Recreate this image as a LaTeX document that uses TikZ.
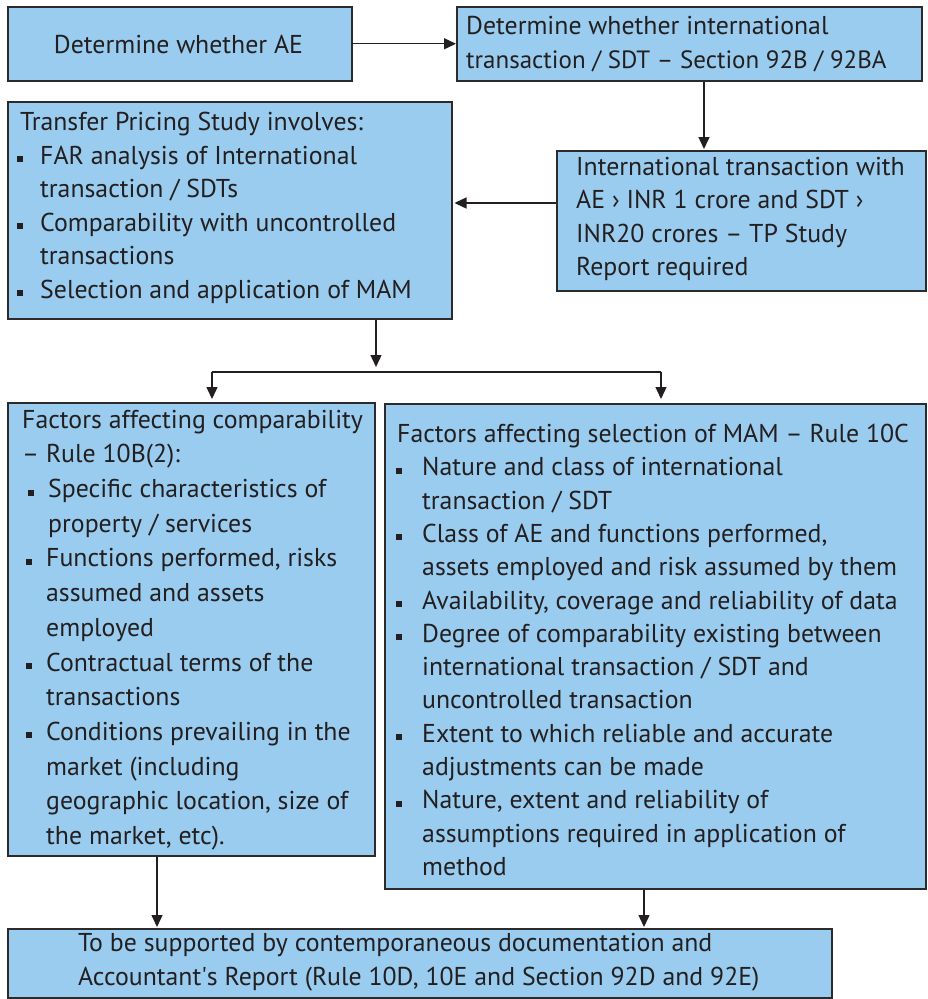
\documentclass[tikz,border=0pt]{standalone}
\usepackage{fontspec}
\setmainfont{PT Sans}
\usetikzlibrary{arrows.meta,calc}
\definecolor{boxfill}{HTML}{99CCEE}
\definecolor{ink}{HTML}{231F20}
\definecolor{edge}{HTML}{2B2B2B}
\newcommand{\bl}[1]{\makebox[#1][l]{\rule[2pt]{6pt}{6pt}}}
\newcommand{\ind}[1]{\hspace*{#1}}
\begin{document}
\begin{tikzpicture}[x=1pt,y=-1pt,
  box/.style={draw=edge,line width=1.5pt,fill=boxfill,anchor=north west,inner sep=0pt},
  txt/.style={anchor=west,inner sep=0pt,align=left,text=ink,font={\fontsize{25.8}{33.5}\selectfont}},
  arr/.style={draw=ink,line width=1.4pt,-{Triangle[length=12pt,width=11pt]}},
  plain/.style={draw=ink,line width=1.4pt}]
\useasboundingbox (0,0) rectangle (928,999);
% boxes
\node[box,minimum width=344pt,minimum height=74pt] (A) at (7,6) {};
\node[box,minimum width=465pt,minimum height=74pt] (B) at (456,6) {};
\node[box,minimum width=444pt,minimum height=217pt] (C) at (7,101) {};
\node[box,minimum width=369pt,minimum height=140pt] (D) at (556,150) {};
\node[box,minimum width=367pt,minimum height=453pt] (E) at (7,402) {};
\node[box,minimum width=541pt,minimum height=485pt] (F) at (384,403) {};
\node[box,minimum width=824pt,minimum height=69pt] (G) at (7,928) {};
% texts
\node[txt,anchor=center] (tA) at (178.5,44) {Determine whether AE};
\node[txt] (tB) at (466,44) {Determine whether international\\{\fontsize{25}{33.5}\selectfont transaction / SDT – Section 92B / 92BA}};
\node[txt] (tC) at (17,208) {\ind{3pt}Transfer Pricing Study involves:\\
\bl{23pt}FAR analysis of International\\
\ind{23pt}transaction / SDTs\\
\bl{23pt}Comparability with uncontrolled\\
\ind{23pt}transactions\\
\bl{23pt}Selection and application of MAM};
\node[txt] (tD) at (576,219) {International transaction with\\AE › INR 1 crore and SDT ›\\INR20 crores – TP Study\\Report required};
\node[txt,font={\fontsize{25.8}{34.7}\selectfont}] (tE) at (22,630) {Factors affecting comparability\\
– Rule 10B(2):\\
\ind{6pt}\bl{20pt}Specific characteristics of\\
\ind{26pt}property / services\\
\ind{4pt}\bl{20pt}Functions performed, risks\\
\ind{24pt}assumed and assets\\
\ind{24pt}employed\\
\ind{4pt}\bl{20pt}Contractual terms of the\\
\ind{24pt}transactions\\
\ind{4pt}\bl{20pt}Conditions prevailing in the\\
\ind{24pt}market (including\\
\ind{24pt}geographic location, size of\\
\ind{24pt}the market, etc).};
\node[txt,font={\fontsize{25.8}{33.3}\selectfont}] (tF) at (396,650) {\ind{1pt}Factors affecting selection of MAM – Rule 10C\\
\bl{26pt}Nature and class of international\\
\ind{26pt}transaction / SDT\\
\bl{26pt}Class of AE and functions performed,\\
\ind{26pt}assets employed and risk assumed by them\\
\bl{26pt}Availability, coverage and reliability of data\\
\bl{26pt}Degree of comparability existing between\\
\ind{26pt}international transaction / SDT and\\
\ind{26pt}uncontrolled transaction\\
\bl{26pt}Extent to which reliable and accurate\\
\ind{26pt}adjustments can be made\\
\bl{26pt}Nature, extent and reliability of\\
\ind{26pt}assumptions required in application of\\
\ind{26pt}method};
\node[txt] (tG) at (78,962) {To be supported by contemporaneous documentation and\\Accountant\textquotesingle s Report (Rule 10D, 10E and Section 92D and 92E)};
% connector helpers
\coordinate (bd) at (704,0);
\coordinate (dc) at (0,203);
\coordinate (cs) at (376,0);
\coordinate (split) at (376,367);
\coordinate (hl) at (212,372);
\coordinate (hr) at (661,372);
\coordinate (eg) at (157,0);
\coordinate (fg) at (644,0);
% connectors
\draw[arr] (A.east) -- (B.west);
\draw[arr] (bd |- B.south) -- ($(bd |- D.north)+(0,-1)$);
\draw[arr] (dc -| D.west) -- ($(dc -| C.east)+(2,0)$);
\draw[arr] (cs |- C.south) -- (split);
\draw[plain] (hl) -- (hr);
\draw[arr] (hl) -- ($(hl |- E.north)+(0,-3)$);
\draw[arr] (hr) -- ($(hr |- F.north)+(0,-4)$);
\draw[arr] (eg |- E.south) -- ($(eg |- G.north)+(0,-1)$);
\draw[arr] (fg |- F.south) -- ($(fg |- G.north)+(0,-1)$);
\end{tikzpicture}
\end{document}
